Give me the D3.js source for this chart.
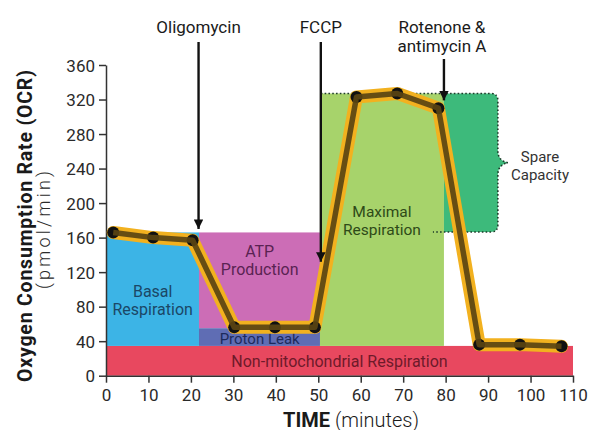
<!DOCTYPE html>
<html>
<head>
<meta charset="utf-8">
<script src="https://cdn.jsdelivr.net/npm/d3@7"></script>
<style>
  html, body { margin: 0; padding: 0; background: #fff; }
  svg { display: block; font-family: Roboto, "Noto Sans", sans-serif; }
</style>
</head>
<body>
<svg id="chart" width="593" height="430"></svg>
<script>
var times = [1.7, 11.1, 20.4, 30.2, 39.8, 49.2, 59.0, 68.6, 78.3, 87.9, 97.5, 107.3];
var ocr = [166, 160, 157, 56, 56, 56, 323, 327, 310, 36, 36, 34];

var xTicks = [0, 10, 20, 30, 40, 50, 60, 70, 80, 90, 100, 110];
var yTicks = [0, 40, 80, 120, 160, 200, 240, 280, 320, 360];

// shaded blocks: [t0, t1, ocr0, ocr1]
var regionNames = ['Non-mitochondrial Respiration', 'Basal Respiration', 'ATP Production', 'Proton Leak', 'Maximal Respiration'];
var regionBounds = [[0, 110, 0, 34.5], [0, 21.9, 34.5, 166], [21.9, 50.4, 55, 166], [21.9, 50.4, 34.5, 55], [50.4, 79.6, 34.5, 327]];
var regionFill = ['#e8485f', '#3cb4e6', '#cc6db6', '#5f6db4', '#a7d36b'];
var regionInk = ['#6e1a2a', '#1b4766', '#5a2352', '#1c2a5c', '#2e4a18'];

// injections
var drugs = [['Oligomycin'], ['FCCP'], ['Rotenone &', 'antimycin A']];
var drugTimes = [21.8, 50.6, 79.6];
var drugTips = [170, 132, 319];

// spare capacity block
var spareTimes = [79.6, 92.3];
var spareRange = [166.5, 327];

var svg = d3.select('#chart');
var x = d3.scaleLinear().domain([0, 110]).range([106, 573]);
var y = d3.scaleLinear().domain([0, 360]).range([375.7, 65]);

// regions
var regions = svg.append('g').attr('class', 'regions');
regions.selectAll('rect')
  .data(regionBounds)
  .enter().append('rect')
  .attr('x', function(d) { return x(d[0]); })
  .attr('y', function(d) { return y(d[3]); })
  .attr('width', function(d) { return x(d[1]) - x(d[0]); })
  .attr('height', function(d) { return y(d[2]) - y(d[3]); })
  .attr('fill', function(d, i) { return regionFill[i]; });

// spare capacity with brace
var sx0 = x(spareTimes[0]), sx1 = x(spareTimes[1]);
var st = y(spareRange[1]), sb = y(spareRange[0]);
var sm = (st + sb) / 2, r = 7;
function braceEdge(p) {
  p.lineTo(sx1 - r, st);
  p.quadraticCurveTo(sx1, st, sx1, st + r);
  p.lineTo(sx1, sm - 12);
  p.quadraticCurveTo(sx1, sm - 2, sx1 + 10, sm);
  p.quadraticCurveTo(sx1, sm + 2, sx1, sm + 12);
  p.lineTo(sx1, sb - r);
  p.quadraticCurveTo(sx1, sb, sx1 - r, sb);
}
var fillPath = d3.path();
fillPath.moveTo(sx0, st);
braceEdge(fillPath);
fillPath.lineTo(sx0, sb);
fillPath.closePath();
svg.append('path').attr('d', fillPath.toString()).attr('fill', '#3dba7b');

var dotPath = d3.path();
dotPath.moveTo(x(drugTimes[1]), st);
braceEdge(dotPath);
dotPath.lineTo(x(77), sb);
svg.append('path').attr('d', dotPath.toString())
  .attr('fill', 'none').attr('stroke', '#1d3b2a')
  .attr('stroke-width', 1.6).attr('stroke-dasharray', '1.6,2.2');

// region labels
var labels = svg.append('g').attr('class', 'region-labels')
  .attr('font-size', 16).attr('text-anchor', 'middle');
function label(lines, cx, by, color, lh, size) {
  var t = labels.append('text').attr('fill', color);
  if (size) t.attr('font-size', size);
  lines.forEach(function(s, i) {
    t.append('tspan').attr('x', cx).attr('y', by + i * lh).text(s);
  });
}
label(['Basal', 'Respiration'], x(11), 297, regionInk[1], 18);
label(['ATP', 'Production'], x(36.2), 257, regionInk[2], 18);
label(['Proton Leak'], x(36.2), 344, regionInk[3], 18, 15);
label(['Non-mitochondrial Respiration'], x(55), 366.5, regionInk[0], 18);
label(['Maximal', 'Respiration'], x(65), 217, regionInk[4], 18, 15.5);
label(['Spare', 'Capacity'], 540, 162, '#333', 18, 15);

// axes
var xAxis = svg.append('g').attr('transform', 'translate(0,' + y(0) + ')')
  .call(d3.axisBottom(x).tickValues(xTicks).tickSize(7).tickPadding(6).tickSizeOuter(0));
var yAxis = svg.append('g').attr('transform', 'translate(' + x(0) + ',0)')
  .call(d3.axisLeft(y).tickValues(yTicks).tickSize(7).tickPadding(4).tickSizeOuter(0));
[xAxis, yAxis].forEach(function(a) {
  a.selectAll('path, line').attr('stroke', '#333').attr('stroke-width', 1.5);
  a.selectAll('text').attr('font-family', 'Roboto, sans-serif').attr('font-size', 17).attr('fill', '#2a2a2a');
});
yAxis.selectAll('text').attr('dy', '0.36em');

// axis titles
svg.append('text').attr('transform', 'translate(32,226) rotate(-90)')
  .attr('text-anchor', 'middle').attr('font-size', 19.5).attr('font-weight', 'bold').attr('fill', '#1a1a1a')
  .attr('textLength', 312).attr('lengthAdjust', 'spacing')
  .text('Oxygen Consumption Rate (OCR)');
svg.append('text').attr('transform', 'translate(50,230) rotate(-90)')
  .attr('text-anchor', 'middle').attr('font-size', 18).attr('font-weight', 300).attr('fill', '#2a2a2a')
  .attr('textLength', 118).attr('lengthAdjust', 'spacing')
  .text('(pmol/min)');
var xt = svg.append('text').attr('x', 351).attr('y', 426.5)
  .attr('text-anchor', 'middle').attr('font-size', 20).attr('fill', '#1a1a1a');
xt.append('tspan').attr('font-weight', 'bold').text('TIME ');
xt.append('tspan').attr('font-weight', 300).text('(minutes)');

// trace: highlighter, dots, line
var line = d3.line().x(function(d, i) { return x(times[i]); }).y(function(d) { return y(d); });
svg.append('path').datum(ocr).attr('d', line)
  .attr('fill', 'none').attr('stroke', '#f2b11f').attr('stroke-width', 13)
  .attr('stroke-linejoin', 'round').attr('stroke-linecap', 'round');
svg.append('g').selectAll('circle').data(ocr).enter().append('circle')
  .attr('cx', function(d, i) { return x(times[i]); })
  .attr('cy', function(d) { return y(d); })
  .attr('r', 6).attr('fill', '#111');
svg.append('path').datum(ocr).attr('d', line)
  .attr('fill', 'none').attr('stroke', '#5a4412').attr('stroke-width', 5.5)
  .attr('stroke-linejoin', 'round').attr('stroke-opacity', 0.92);

// injection arrows
svg.append('defs').append('marker').attr('id', 'head')
  .attr('viewBox', '0 0 10 10').attr('refX', 10).attr('refY', 5)
  .attr('markerWidth', 4).attr('markerHeight', 4).attr('orient', 'auto')
  .append('path').attr('d', 'M0,0L10,5L0,10Z').attr('fill', '#111');
var ann = svg.append('g').attr('class', 'injections');
drugs.forEach(function(lines, i) {
  var cx = x(drugTimes[i]);
  var t = ann.append('text').attr('text-anchor', 'middle').attr('font-size', 17).attr('fill', '#1a1a1a');
  lines.forEach(function(s, j) {
    t.append('tspan').attr('x', i === 2 ? cx - 2 : cx).attr('y', 33 + j * 19).text(s);
  });
  ann.append('line')
    .attr('x1', cx).attr('x2', cx)
    .attr('y1', 42 + (lines.length - 1) * 17).attr('y2', y(drugTips[i]))
    .attr('stroke', '#111').attr('stroke-width', 2.4)
    .attr('marker-end', 'url(#head)');
});
</script>
</body>
</html>
